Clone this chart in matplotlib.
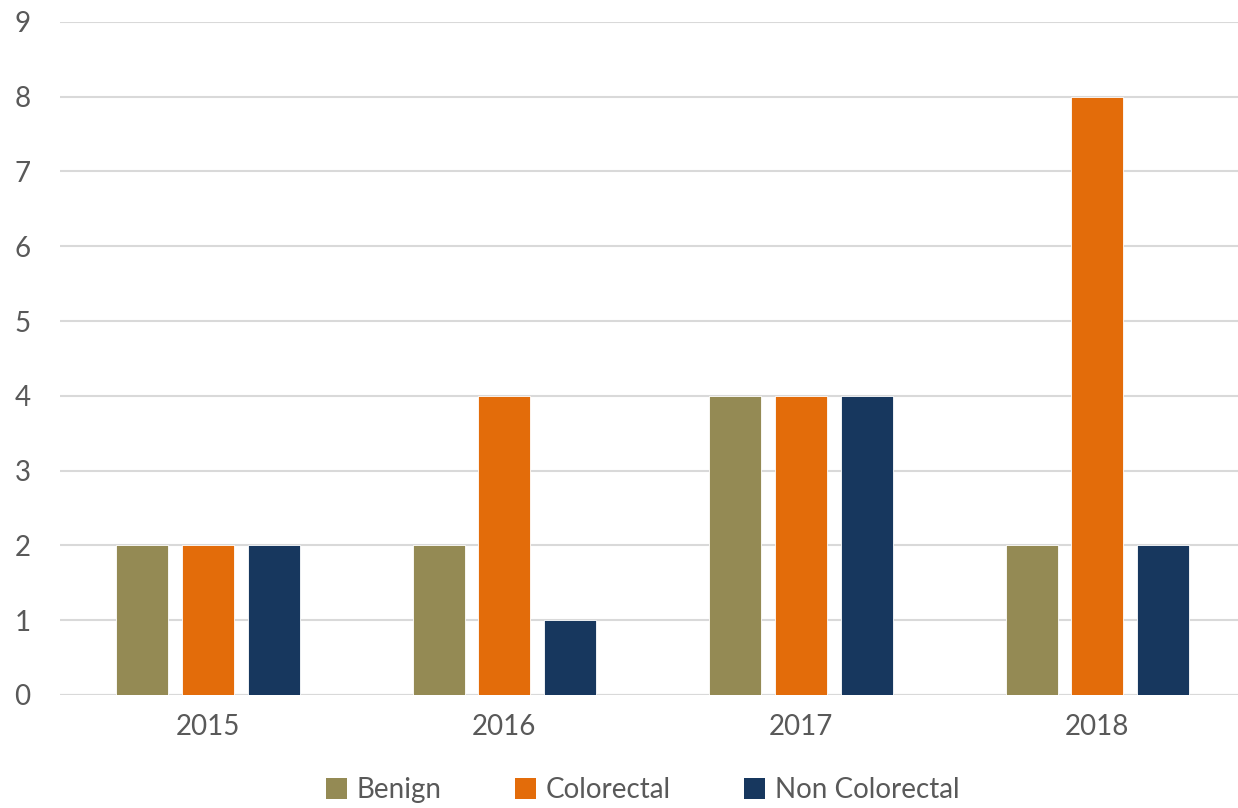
import numpy as np
import matplotlib
matplotlib.use("Agg")
import matplotlib.pyplot as plt
from matplotlib.patches import Patch

years = ["2015", "2016", "2017", "2018"]
series = ["Benign", "Colorectal", "Non Colorectal"]
benign = [2, 2, 4, 2]
colorectal = [2, 4, 4, 8]
non_colorectal = [2, 1, 4, 2]
colors = ["#948A54", "#E36C0A", "#17375E"]

plt.rcParams['font.family'] = ['Lato', 'DejaVu Sans']
text_col = "#595959"

fig = plt.figure(figsize=(12.38, 8.08), dpi=100)
ax = fig.add_axes([0.0482, 0.1399, 0.958, 0.833])

x = np.arange(len(years))
w = 0.175
step = 0.222
for i, vals in enumerate([benign, colorectal, non_colorectal]):
    ax.bar(x + (i - 1) * step, vals, width=w, color=colors[i],
           edgecolor="white", linewidth=0.6, zorder=3)

ax.set_xlim(-0.5, 3.5)
ax.set_ylim(0, 9)
ax.set_yticks(range(10))
ax.set_xticks(x)
ax.set_xticklabels(years)
ax.grid(axis="y", color="#D9D9D9", linewidth=1.5, zorder=0)
for s in ax.spines.values():
    s.set_visible(False)
ax.axhline(0, color="#D9D9D9", linewidth=1.5, zorder=1)
ax.tick_params(length=0, labelsize=20, labelcolor=text_col)
ax.tick_params(axis="y", pad=21)
ax.tick_params(axis="x", pad=14)

handles = [Patch(facecolor=c, label=s) for c, s in zip(colors, series)]
fig.legend(handles=handles, loc="center", bbox_to_anchor=(0.519, 0.022),
           ncol=3, frameon=False, fontsize=20, labelcolor=text_col,
           handlelength=0.75, handleheight=0.75, handletextpad=0.35,
           columnspacing=2.65)

fig.savefig("out.png", dpi=100)
